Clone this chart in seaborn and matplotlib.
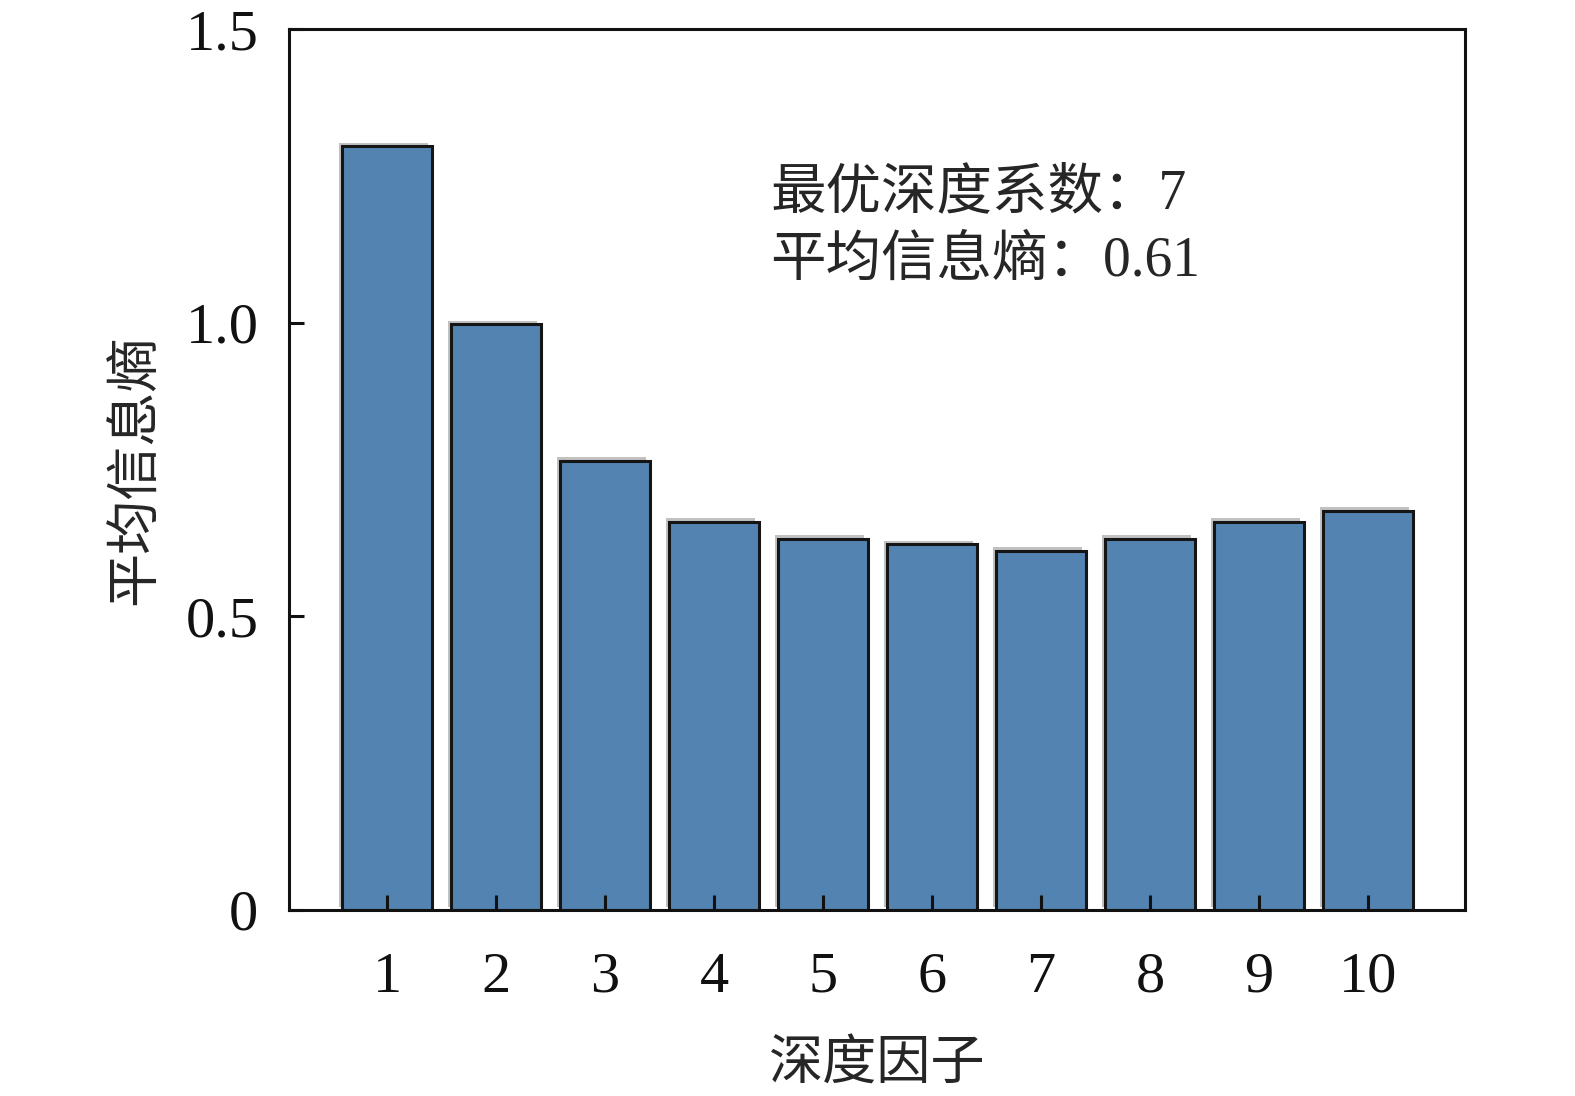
import numpy as np
import pandas as pd
import seaborn as sns
import matplotlib.pyplot as plt
import matplotlib.patheffects as pe

# data
depth = ['1', '2', '3', '4', '5', '6', '7', '8', '9', '10']
entropy = [1.300, 0.997, 0.765, 0.661, 0.632, 0.623, 0.612, 0.632, 0.661, 0.680]
y_ticks = [0, 0.5, 1.0, 1.5]
y_labels = ['0', '0.5', '1.0', '1.5']

sns.set_style('white')
fonts = ['Liberation Serif', 'Noto Sans CJK SC', 'DejaVu Sans']
plt.rcParams['font.family'] = fonts

df = pd.DataFrame({'depth': depth, 'entropy': entropy})

fig = plt.figure(figsize=(15.75, 10.96), dpi=100)
ax = fig.add_axes([289 / 1575, 1 - 910 / 1096, 1176 / 1575, 881 / 1096])

sns.barplot(data=df, x='depth', y='entropy', color='#5383b1', saturation=1,
            width=0.82, edgecolor='#151515', linewidth=2.2, errorbar=None, ax=ax)
for p in ax.patches:
    p.set_path_effects([pe.SimplePatchShadow(offset=(-2.5, 2.5), shadow_rgbFace='#999999', alpha=0.6),
                        pe.Normal()])

ax.set_xlim(-0.9, 9.89)
ax.set_ylim(0, 1.5)
ax.set_yticks(y_ticks)
ax.set_yticklabels(y_labels)
ax.set_axisbelow(False)

for s in ax.spines.values():
    s.set_visible(True)
    s.set_linewidth(2.2)
    s.set_color('#111111')

ax.tick_params(axis='both', direction='in', length=11, width=2.2, labelsize=42,
               colors='#111111', bottom=True, left=True, top=False, right=False)
ax.tick_params(axis='x', pad=30)
ax.tick_params(axis='y', pad=22)

ax.set_xlabel('深度因子', fontsize=39, labelpad=26)
ax.set_ylabel('平均信息熵', fontsize=39, labelpad=16)

ax.text(0.409, 0.812, '最优深度系数：7', transform=ax.transAxes, fontsize=40,
        va='center', ha='left', family=fonts)
ax.text(0.409, 0.736, '平均信息熵：0.61', transform=ax.transAxes, fontsize=40,
        va='center', ha='left', family=fonts)

fig.savefig('out.png', dpi=100)
